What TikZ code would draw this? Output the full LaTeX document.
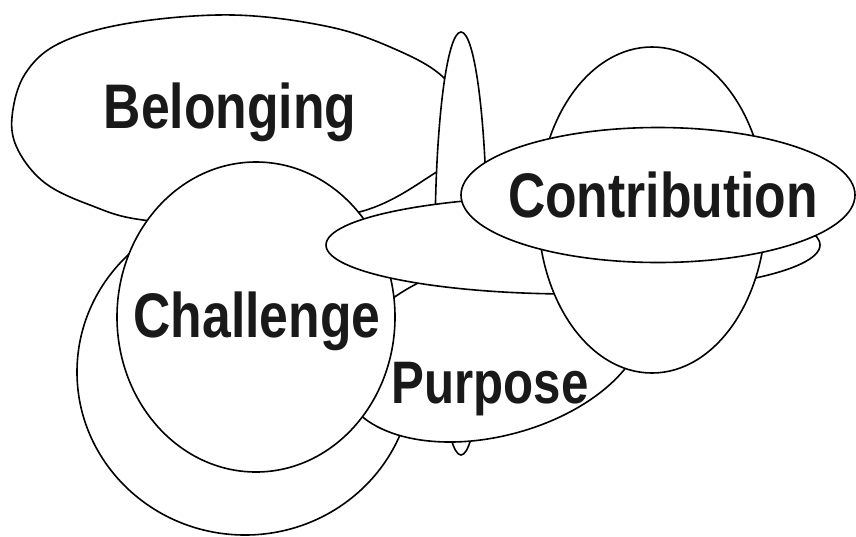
\documentclass[tikz,border=0pt]{standalone}
\usepackage{fontspec}
\setmainfont{Liberation Sans}
\usetikzlibrary{shapes.geometric}

\tikzset{
  blob/.style={ellipse, draw, fill=white, line width=1.6pt, inner sep=0pt, outer sep=0pt},
  word/.style={anchor=base, inner sep=0pt, text=black!90,
    font=\bfseries\fontsize{63}{63}\selectfont},
}
\newcommand{\narrowtext}[1]{\scalebox{0.82}[1]{#1}}

\begin{document}
\begin{tikzpicture}[x=1pt, y=-1pt]
  \useasboundingbox (0,0) rectangle (856,536);

  % Back shapes
  \draw[line width=1.6pt, fill=white] plot[smooth cycle, tension=0.6] coordinates {
    (12,117) (25,74) (60,43) (130,23) (233,15) (330,27) (397,50) (443,77)
    (466,115) (462,150) (435,173) (363,211) (250,226) (143,220) (90,205)
    (45,183) (18,150)};
  \node[blob, minimum width=52pt, minimum height=423pt] (spike) at (461,243.5) {};
  \node[blob, minimum width=336pt, minimum height=326pt] (ring) at (245,372) {};
  \node[blob, minimum width=310pt, minimum height=176pt, rotate=15] (purp) at (493,348) {};
  \node[blob, minimum width=278pt, minimum height=310pt] (chal) at (256,317) {};

  % Front shapes
  \node[blob, minimum width=494pt, minimum height=98pt] (disc) at (573,245) {};
  \node[blob, minimum width=228pt, minimum height=326pt] (globe) at (652,210) {};
  \node[blob, minimum width=394pt, minimum height=135pt] (contr) at (658,195) {};

  % Labels
  \node[word] (belongtext) at (230,128) {\narrowtext{Belonging}};
  \node[word] (contrtext)  at (663,217) {\narrowtext{Contribution}};
  \node[word] (chaltext)   at (257,337) {\narrowtext{Challenge}};
  \node[word, font=\bfseries\fontsize{60}{60}\selectfont] (purptext) at (490,403) {\narrowtext{Purpose}};

\end{tikzpicture}
\end{document}
